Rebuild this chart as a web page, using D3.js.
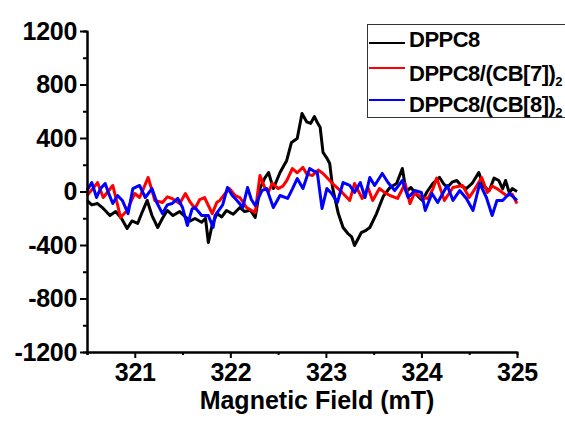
<!DOCTYPE html>
<html><head><meta charset="utf-8">
<script src="https://cdn.jsdelivr.net/npm/d3@7"></script>
<style>
html,body{margin:0;padding:0;background:#fff;}
svg{display:block;font-family:"Liberation Sans",Arial,sans-serif;font-weight:bold;}
</style></head><body>
<svg id="chart" width="565" height="423"></svg>
<script>
// ---- data (field in mT, intensity) ----
const dppc8 = [[320.50,-67],[320.55,-100],[320.61,-90],[320.67,-127],[320.74,-180],[320.80,-150],[320.86,-200],[320.92,-277],[320.97,-220],[321.03,-239],[321.08,-150],[321.13,-67],[321.18,-180],[321.24,-269],[321.29,-200],[321.34,-142],[321.40,-180],[321.47,-150],[321.53,-190],[321.58,-220],[321.63,-202],[321.70,-230],[321.74,-200],[321.77,-381],[321.81,-250],[321.86,-165],[321.91,-190],[321.96,-142],[322.03,-170],[322.10,-120],[322.15,-150],[322.21,-140],[322.26,-194],[322.31,22],[322.36,100],[322.40,142],[322.45,22],[322.52,142],[322.59,232],[322.64,367],[322.70,396],[322.75,583],[322.80,520],[322.84,509],[322.88,560],[322.91,516],[322.94,480],[322.97,292],[323.01,250],[323.04,209],[323.07,30],[323.13,-165],[323.18,-269],[323.23,-314],[323.27,-340],[323.30,-404],[323.34,-350],[323.37,-307],[323.42,-290],[323.46,-269],[323.53,-165],[323.60,-37],[323.67,30],[323.74,60],[323.80,172],[323.84,0],[323.89,30],[323.93,-7],[323.97,-40],[324.01,-67],[324.06,0],[324.12,60],[324.19,105],[324.23,60],[324.27,30],[324.32,70],[324.37,82],[324.42,40],[324.47,22],[324.53,60],[324.60,142],[324.65,40],[324.71,7],[324.76,100],[324.81,82],[324.85,20],[324.88,82],[324.92,-10],[324.95,22],[325.00,0]];
const dppc8cb7 = [[320.50,-30],[320.56,20],[320.61,67],[320.67,-45],[320.72,0],[320.77,45],[320.82,-100],[320.85,-194],[320.92,-142],[320.97,-60],[321.00,-15],[321.05,-45],[321.09,20],[321.14,105],[321.21,-67],[321.29,-82],[321.34,-40],[321.39,-52],[321.47,-90],[321.53,-15],[321.58,-80],[321.63,-127],[321.68,-60],[321.73,-45],[321.81,-165],[321.86,-80],[321.89,-67],[321.94,-20],[321.99,22],[322.05,-30],[322.10,-45],[322.17,-120],[322.26,-157],[322.31,120],[322.36,30],[322.40,0],[322.44,60],[322.50,22],[322.55,40],[322.59,82],[322.65,172],[322.70,140],[322.76,180],[322.80,130],[322.86,120],[322.92,160],[322.96,140],[322.99,120],[323.04,82],[323.09,45],[323.17,-7],[323.25,-67],[323.30,60],[323.38,-52],[323.44,30],[323.49,-67],[323.56,22],[323.62,-10],[323.67,-30],[323.75,-52],[323.83,60],[323.88,-90],[323.93,-7],[324.00,-45],[324.07,-52],[324.12,20],[324.16,100],[324.24,-67],[324.33,30],[324.43,45],[324.50,-45],[324.56,20],[324.63,105],[324.69,-7],[324.74,40],[324.79,22],[324.85,-10],[324.89,-30],[324.95,-20],[325.00,-90]];
const dppc8cb8 = [[320.50,7],[320.55,67],[320.60,-45],[320.64,20],[320.69,60],[320.73,-20],[320.77,-90],[320.82,-30],[320.87,-67],[320.93,-165],[320.98,22],[321.05,45],[321.11,-45],[321.18,22],[321.23,-82],[321.29,-165],[321.34,-100],[321.39,-90],[321.45,-52],[321.50,-120],[321.55,-254],[321.60,-130],[321.63,-120],[321.70,-180],[321.77,-180],[321.82,-269],[321.84,-180],[321.92,-100],[321.97,30],[322.02,-30],[322.07,-67],[322.13,-120],[322.18,30],[322.22,-60],[322.26,-105],[322.33,7],[322.38,22],[322.45,-120],[322.52,-30],[322.60,-52],[322.65,20],[322.70,97],[322.76,22],[322.83,172],[322.88,150],[322.91,142],[322.96,-127],[323.01,22],[323.06,-15],[323.12,-82],[323.18,67],[323.25,45],[323.30,-7],[323.36,67],[323.41,-45],[323.46,105],[323.51,45],[323.59,135],[323.65,67],[323.72,7],[323.80,82],[323.86,-45],[323.93,7],[324.00,-7],[324.04,-142],[324.11,-15],[324.17,-82],[324.27,45],[324.33,-67],[324.40,7],[324.47,-52],[324.54,-142],[324.61,60],[324.68,-45],[324.74,-180],[324.79,-67],[324.85,-67],[324.92,-15],[325.00,-67]];
const xMajorTicks = [321, 322, 323, 324, 325];
const xMinorTicks = [320.5, 321.5, 322.5, 323.5, 324.5];
const yMajorTicks = [-1200, -800, -400, 0, 400, 800, 1200];
const yMinorTicks = [-1000, -600, -200, 200, 600, 1000];
const seriesNames = ["DPPC8", "DPPC8/(CB[7])", "DPPC8/(CB[8])"];
const seriesColors = ["#000000", "#ff0000", "#0000ff"];
const xTitle = "Magnetic Field (mT)";

const svg = d3.select("#chart");
const x = d3.scaleLinear().domain([320.5, 325]).range([87, 517]);
const y = d3.scaleLinear().domain([-1200, 1200]).range([352, 31]);
const fmt = d => String(d);   // plain hyphen minus, as in the reference

// lines
const line = d3.line().x(d => x(d[0])).y(d => y(d[1]));
[dppc8, dppc8cb7, dppc8cb8].forEach((s, i) => {
  svg.append("path").datum(s).attr("d", line)
    .attr("fill", "none").attr("stroke", seriesColors[i])
    .attr("stroke-width", 3).attr("stroke-linejoin", "round");
});

// axes
function styleAxis(g) {
  g.selectAll(".domain").attr("stroke", "#000").attr("stroke-width", 2);
  g.selectAll(".tick line").attr("stroke", "#000").attr("stroke-width", 2);
  g.selectAll(".tick text").attr("font-size", 25).attr("font-weight", "bold")
    .attr("font-family", "Liberation Sans, Arial, sans-serif").attr("fill", "#000");
}
const gxMinor = svg.append("g").attr("transform", "translate(0,352)")
  .call(d3.axisBottom(x).tickValues(xMinorTicks).tickSize(3).tickFormat(""));
styleAxis(gxMinor);
const gx = svg.append("g").attr("transform", "translate(0,352)")
  .call(d3.axisBottom(x).tickValues(xMajorTicks).tickSize(6).tickSizeOuter(0).tickPadding(5).tickFormat(fmt));
styleAxis(gx);
gx.selectAll(".tick text").attr("letter-spacing", "-0.3px");

const gyMinor = svg.append("g").attr("transform", "translate(87,0)")
  .call(d3.axisLeft(y).tickValues(yMinorTicks).tickSize(4).tickFormat(""));
styleAxis(gyMinor);
const gy = svg.append("g").attr("transform", "translate(87,0)")
  .call(d3.axisLeft(y).tickValues(yMajorTicks).tickSize(7).tickSizeOuter(0).tickPadding(3).tickFormat(fmt));
styleAxis(gy);
gy.selectAll(".tick text").attr("letter-spacing", "-0.3px");

// axis title
svg.append("text").attr("x", 317).attr("y", 409).attr("text-anchor", "middle")
  .attr("font-size", 25).attr("font-weight", "bold").text(xTitle);

// legend
const lg = svg.append("g");
lg.append("rect").attr("x", 367.5).attr("y", 24.5).attr("width", 210).attr("height", 93)
  .attr("fill", "#fff").attr("stroke", "#333").attr("stroke-width", 1);
const legY = [43, 68, 100];
const legBase = [47, 81, 112];
seriesNames.forEach((n, i) => {
  lg.append("line").attr("x1", 369).attr("x2", 405).attr("y1", legY[i]).attr("y2", legY[i])
    .attr("stroke", seriesColors[i]).attr("stroke-width", 2);
  const t = lg.append("text").attr("x", 409).attr("y", legBase[i]).attr("font-size", 22)
    .attr("font-weight", "bold").attr("letter-spacing", "-0.5px").text(n);
  if (i > 0) t.append("tspan").attr("font-size", 13).attr("dy", 5).text("2");
});
</script>
</body></html>
